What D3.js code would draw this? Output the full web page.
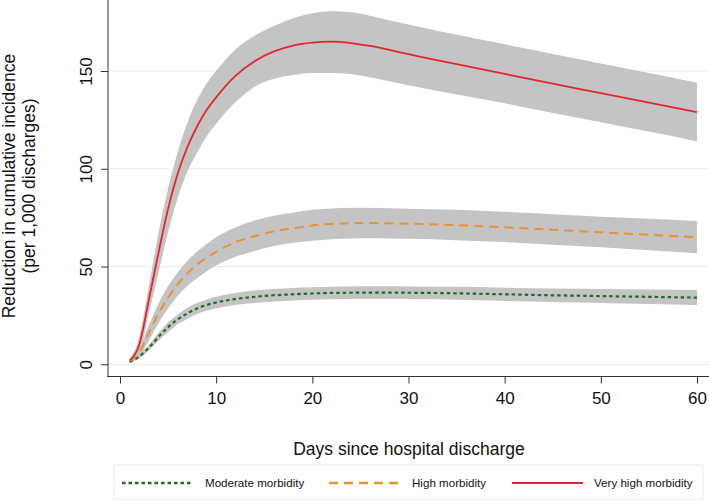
<!DOCTYPE html>
<html>
<head>
<meta charset="utf-8">
<script src="https://cdn.jsdelivr.net/npm/d3@7"></script>
<style>
    body { margin: 0; background: #fff; }
    svg { font-family: "Liberation Sans", Arial, sans-serif; }
</style>
</head>
<body>
<div id="chart"></div>
<script>
let days = [1, 2, 3, 4, 5, 6, 7, 8, 9, 10, 12, 14, 16, 18, 20, 22, 24, 26, 28, 30, 35, 40, 45, 50, 55, 60];

let veryHighMean = [2, 10, 33, 57, 79.5, 97.5, 111, 121.5, 130, 136.5, 147.5, 155, 160, 163, 164.5, 165, 164.3, 162.8, 160.8, 158.6, 153.5, 148.5, 143.5, 138.7, 133.8, 129];
let veryHighUpper = [2.5, 14, 40, 67, 90, 108.5, 123.5, 135, 143.5, 150, 161, 168, 173, 177, 179.5, 180.5, 180, 178.3, 176, 173.8, 168.6, 163.7, 158.7, 153.8, 149, 144];
let veryHighLower = [1.5, 6, 26, 47, 67.5, 85, 98.5, 108, 116.5, 123, 134, 142, 146, 148, 149, 149, 148.5, 146.8, 144.8, 142.7, 138, 133.5, 128.5, 123.8, 119, 114];

let highMean = [1.5, 6, 16, 26, 34, 41, 46.5, 51, 54.5, 57.5, 62.5, 65.5, 68, 69.5, 71, 71.8, 72.2, 72.3, 72.1, 71.9, 71.2, 70.1, 68.8, 67.5, 66.2, 65];
let highUpper = [2, 8, 20, 31, 40, 47, 53, 57.5, 61.5, 65, 70, 73.5, 76, 77.5, 79, 79.7, 80, 80, 79.8, 79.6, 79, 78, 76.8, 75.5, 74.4, 73.3];
let highLower = [1, 4, 12, 21, 28.5, 35, 40, 44, 47.5, 50.5, 55, 58, 60.5, 62, 63.2, 64, 64.4, 64.5, 64.4, 64.2, 63.5, 62.5, 61.2, 59.8, 58.3, 56.8];

let moderateMean = [1.2, 4, 8.5, 14, 19, 23, 26, 28.5, 30.3, 31.6, 33.4, 34.5, 35.3, 35.8, 36.2, 36.5, 36.6, 36.7, 36.7, 36.6, 36.3, 35.8, 35.3, 34.9, 34.5, 34.1];
let moderateUpper = [1.5, 5, 10, 16, 21.5, 25.5, 28.8, 31.3, 33.2, 34.6, 36.5, 37.7, 38.5, 39, 39.4, 39.7, 39.8, 39.9, 39.9, 39.8, 39.6, 39.2, 38.8, 38.5, 38.2, 38];
let moderateLower = [0.9, 3, 7, 12, 16.5, 20.5, 23.2, 25.7, 27.4, 28.6, 30.3, 31.3, 32.1, 32.6, 33, 33.3, 33.4, 33.5, 33.5, 33.4, 33, 32.4, 31.8, 31.3, 30.8, 30.3];

let seriesNames = ["Moderate morbidity", "High morbidity", "Very high morbidity"];
let xTicks = [0, 10, 20, 30, 40, 50, 60];
let yTicks = [0, 50, 100, 150];

let width = 709,
    height = 502;

let series = [
    {name: seriesNames[0], mean: moderateMean, upper: moderateUpper, lower: moderateLower,
        color: "#1f6b24", dash: "3.5,3", strokeWidth: 2.2},
    {name: seriesNames[1], mean: highMean, upper: highUpper, lower: highLower,
        color: "#e89230", dash: "9,6", strokeWidth: 2},
    {name: seriesNames[2], mean: veryHighMean, upper: veryHighUpper, lower: veryHighLower,
        color: "#e3262d", dash: null, strokeWidth: 1.8}
];

let x = d3.scaleLinear().domain([0, 60]).range([120, 697]);
let y = d3.scaleLinear().domain([0, 150]).range([364.3, 71]);

let svg = d3.select("#chart").append("svg")
    .attr("width", width)
    .attr("height", height);

svg.append("rect")
    .attr("width", width)
    .attr("height", height)
    .attr("fill", "#fff");

// horizontal grid lines
svg.append("g")
    .selectAll("line")
    .data(yTicks)
    .enter().append("line")
    .attr("x1", 108)
    .attr("x2", width)
    .attr("y1", d => y(d))
    .attr("y2", d => y(d))
    .attr("stroke", "#e6eef0")
    .attr("stroke-width", 1.2);

// confidence bands
let band = d3.area()
    .x((d, i) => x(days[i]))
    .y0(d => y(d[0]))
    .y1(d => y(d[1]))
    .curve(d3.curveMonotoneX);

svg.append("g")
    .selectAll("path")
    .data(series)
    .enter().append("path")
    .attr("d", s => band(s.lower.map((v, i) => [v, s.upper[i]])))
    .attr("fill", "#c4c4c4");

// mean lines
let line = d3.line()
    .x((d, i) => x(days[i]))
    .y(d => y(d))
    .curve(d3.curveMonotoneX);

svg.append("g")
    .selectAll("path")
    .data(series)
    .enter().append("path")
    .attr("d", s => line(s.mean))
    .attr("fill", "none")
    .attr("stroke", s => s.color)
    .attr("stroke-width", s => s.strokeWidth)
    .attr("stroke-dasharray", s => s.dash);

// y axis
let yAxis = svg.append("g")
    .attr("transform", "translate(108,0)")
    .call(d3.axisLeft(y).tickValues(yTicks).tickSize(7).tickSizeOuter(0));
yAxis.select(".domain").attr("d", "M0,0V376.5").attr("stroke", "#333");
yAxis.selectAll(".tick line").attr("stroke", "#333");
yAxis.selectAll(".tick text")
    .attr("font-size", 17)
    .attr("fill", "#111")
    .attr("x", null)
    .attr("dy", null)
    .attr("text-anchor", "middle")
    .attr("transform", "translate(-16,0) rotate(-90)");

// x axis
let xAxis = svg.append("g")
    .attr("transform", "translate(0,376.5)")
    .call(d3.axisBottom(x).tickValues(xTicks).tickSize(7).tickSizeOuter(0));
xAxis.select(".domain").attr("d", "M107,0H" + width).attr("stroke", "#333");
xAxis.selectAll(".tick line").attr("stroke", "#333");
xAxis.selectAll(".tick text")
    .attr("font-size", 17)
    .attr("fill", "#111")
    .attr("y", 15);

// axis titles
svg.append("text")
    .attr("x", 409)
    .attr("y", 449)
    .attr("dy", "0.35em")
    .attr("text-anchor", "middle")
    .attr("font-size", 17.5)
    .attr("fill", "#111")
    .text("Days since hospital discharge");

let yTitle = svg.append("text")
    .attr("transform", "translate(0,186) rotate(-90)")
    .attr("text-anchor", "middle")
    .attr("font-size", 17.5)
    .attr("fill", "#111");
yTitle.append("tspan").attr("x", 0).attr("y", 15).text("Reduction in cumulative incidence");
yTitle.append("tspan").attr("x", 0).attr("y", 35).text("(per 1,000 discharges)");

// legend
let legend = svg.append("g");
legend.append("rect")
    .attr("x", 114)
    .attr("y", 465)
    .attr("width", 589)
    .attr("height", 34)
    .attr("fill", "#fff")
    .attr("stroke", "#e8eef0");

let legendX = [122, 329, 512];
let item = legend.selectAll("g.item")
    .data(series)
    .enter().append("g")
    .attr("class", "item")
    .attr("transform", (d, i) => "translate(" + legendX[i] + ",483)");

item.append("line")
    .attr("x1", 0)
    .attr("x2", 71)
    .attr("stroke", d => d.color)
    .attr("stroke-width", d => d.strokeWidth + 0.3)
    .attr("stroke-dasharray", d => d.dash);

item.append("text")
    .attr("x", (d, i) => i === 2 ? 82 : 83)
    .attr("dy", "0.35em")
    .attr("font-size", 11.6)
    .attr("fill", "#111")
    .text(d => d.name);
</script>
</body>
</html>
